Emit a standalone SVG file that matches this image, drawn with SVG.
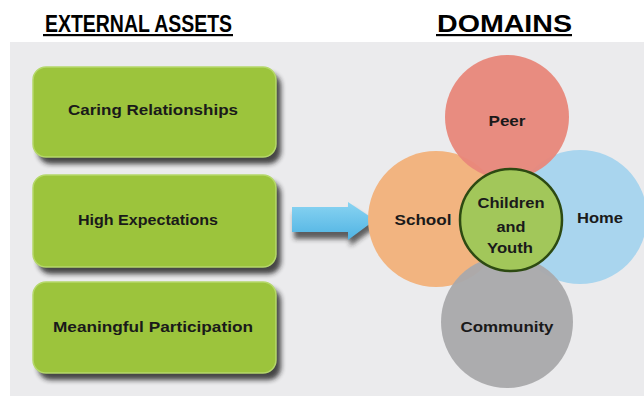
<svg xmlns="http://www.w3.org/2000/svg" width="644" height="406" viewBox="0 0 644 406">
<defs>
<style>
.title{font-family:"Liberation Sans Narrow","Liberation Sans",Arial,sans-serif;font-weight:bold;font-size:24px;fill:#000}
.lbl{font-family:"Liberation Sans",Arial,sans-serif;font-weight:bold;font-size:15px;fill:#1a1a1a;text-anchor:middle}
.clbl{font-family:"Liberation Sans",Arial,sans-serif;font-weight:bold;font-size:14.5px;fill:#1a1a1a;text-anchor:middle}
.box{fill:#9cc43c;stroke:#b5d86a;stroke-width:1.5}
.shadow{fill:#1e1e1e;opacity:0.8}
</style>
<filter id="blur" x="-20%" y="-20%" width="140%" height="140%"><feGaussianBlur stdDeviation="2.5"/></filter>
<linearGradient id="arrowg" x1="0" y1="0" x2="0" y2="1"><stop offset="0" stop-color="#8ad4f2"/><stop offset="1" stop-color="#4fb3e3"/></linearGradient>
</defs>
<rect x="0" y="0" width="644" height="406" fill="#ffffff"/>
<rect x="10" y="42" width="634" height="354" fill="#ebebed"/>
<g id="titles">
<text class="title" x="45" y="32" textLength="187" lengthAdjust="spacingAndGlyphs">EXTERNAL ASSETS</text>
<rect x="43" y="34" width="190" height="2.2" fill="#000"/>
<text class="title" x="437" y="32" textLength="135" lengthAdjust="spacingAndGlyphs" font-family="Liberation Sans, Arial, sans-serif">DOMAINS</text>
<rect x="436" y="34" width="136" height="2.2" fill="#000"/>
</g>
<g id="box-caring">
<rect class="shadow" x="38" y="73" width="243" height="91" rx="13" filter="url(#blur)"/>
<rect class="box" x="33" y="67" width="243" height="90" rx="13"/>
<text class="lbl" x="153" y="115" textLength="170" lengthAdjust="spacingAndGlyphs">Caring Relationships</text>
</g>
<g id="box-high">
<rect class="shadow" x="38" y="181" width="243" height="93" rx="13" filter="url(#blur)"/>
<rect class="box" x="33" y="175" width="243" height="92" rx="13"/>
<text class="lbl" x="148" y="225" textLength="140" lengthAdjust="spacingAndGlyphs">High Expectations</text>
</g>
<g id="box-meaningful">
<rect class="shadow" x="38" y="288" width="243" height="92" rx="13" filter="url(#blur)"/>
<rect class="box" x="33" y="282" width="243" height="91" rx="13"/>
<text class="lbl" x="153" y="332" textLength="200" lengthAdjust="spacingAndGlyphs">Meaningful Participation</text>
</g>
<g id="connectors">
<path d="M294 213 L350 213 L350 208 L378 226 L350 246 L350 239 L294 239 Z" fill="#222" opacity="0.7" filter="url(#blur)"/>
<path d="M292 207 L348 207 L348 202 L375 220 L348 240 L348 232 L292 232 Z" fill="url(#arrowg)"/>
</g>
<g id="circle-school">
<circle cx="436" cy="219" r="68" fill="#f2b480"/>
<text class="clbl" x="423" y="225" textLength="57" lengthAdjust="spacingAndGlyphs">School</text>
</g>
<g id="circle-home">
<circle cx="580" cy="217" r="67" fill="#a9d5ee"/>
<text class="clbl" x="600" y="223" textLength="46" lengthAdjust="spacingAndGlyphs">Home</text>
</g>
<g id="circle-peer">
<circle cx="507" cy="117" r="62" fill="#e8877a" opacity="0.95"/>
<text class="clbl" x="507" y="126" textLength="37" lengthAdjust="spacingAndGlyphs">Peer</text>
</g>
<g id="circle-community">
<circle cx="507" cy="322" r="66" fill="#a9a9ab" opacity="0.95"/>
<text class="clbl" x="507" y="332" textLength="93" lengthAdjust="spacingAndGlyphs">Community</text>
</g>
<g id="circle-center">
<circle cx="511" cy="220" r="51" fill="#a2c75a" stroke="#2d4a12" stroke-width="2.5"/>
<text class="clbl" x="511" y="208" textLength="67" lengthAdjust="spacingAndGlyphs">Children</text>
<text class="clbl" x="511" y="232" textLength="29" lengthAdjust="spacingAndGlyphs">and</text>
<text class="clbl" x="510" y="253" textLength="46" lengthAdjust="spacingAndGlyphs">Youth</text>
</g>
</svg>
